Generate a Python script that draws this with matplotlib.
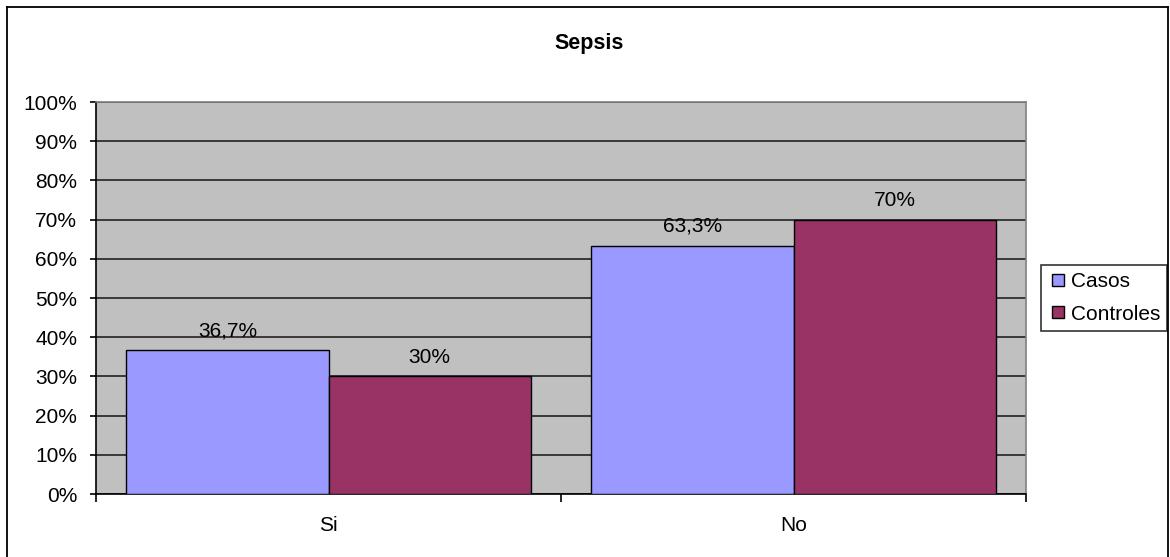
import matplotlib
matplotlib.use("Agg")
import matplotlib.pyplot as plt
from matplotlib.lines import Line2D
from matplotlib.ticker import FixedLocator, PercentFormatter

plt.rcParams['font.family'] = ['Liberation Sans', 'DejaVu Sans']

categories = ["Si", "No"]
series_names = ["Casos", "Controles"]
casos = [36.7, 63.3]
controles = [30.0, 70.0]
casos_labels = ["36,7%", "63,3%"]
controles_labels = ["30%", "70%"]
colors = ["#9999FF", "#993366"]

FS = 15

fig = plt.figure(figsize=(11.70, 5.57), dpi=100)
ax = fig.add_axes([96 / 1170, 63 / 557, 930 / 1170, 392 / 557])
ax.set_facecolor("#C0C0C0")

bw = 0.435
xs = list(range(len(categories)))
b1 = ax.bar([x - bw / 2 for x in xs], casos, width=bw, color=colors[0],
            edgecolor="black", linewidth=1, zorder=3, label=series_names[0])
b2 = ax.bar([x + bw / 2 for x in xs], controles, width=bw, color=colors[1],
            edgecolor="black", linewidth=1, zorder=3, label=series_names[1])

for bars, labels in ((b1, casos_labels), (b2, controles_labels)):
    for rect, txt in zip(bars, labels):
        ax.annotate(txt, (rect.get_x() + rect.get_width() / 2, rect.get_height()),
                    xytext=(0, 10), textcoords="offset points",
                    ha="center", va="baseline", fontsize=FS, color="black", zorder=4)

ax.set_xlim(-0.5, len(categories) - 0.5)
ax.set_ylim(0, 100)
ax.yaxis.set_major_locator(FixedLocator(range(0, 101, 10)))
ax.yaxis.set_major_formatter(PercentFormatter(decimals=0))
ax.grid(axis="y", color="#222222", linewidth=1.2, zorder=1)
ax.set_axisbelow(True)

# category boundary ticks, labels placed at category centres
ax.set_xticks([-0.5, 0.5, 1.5])
ax.set_xticklabels([])
ax.set_xticks(xs, minor=True)
ax.set_xticklabels(categories, minor=True, fontsize=FS)
ax.tick_params(axis="x", which="major", length=6, width=1.2, direction="out", color="black")
ax.tick_params(axis="x", which="minor", length=0, pad=16)
ax.tick_params(axis="y", length=4.5, width=1.2, direction="out", color="black", labelsize=FS, pad=9)

for side in ("left", "bottom"):
    ax.spines[side].set_color("black")
    ax.spines[side].set_linewidth(1.2)
for side in ("top", "right"):
    ax.spines[side].set_color("#808080")
    ax.spines[side].set_linewidth(1.2)

fig.text(589 / 1170, 1 - 44 / 557, "Sepsis", ha="center", va="center",
         fontsize=15.5, fontweight="bold")

handles = [Line2D([], [], marker="s", linestyle="none", markersize=9,
                  markerfacecolor=c, markeredgecolor="black", markeredgewidth=1)
           for c in colors]
leg = fig.legend(handles, series_names, loc="center left",
                 bbox_to_anchor=(1041 / 1170, 1 - 298 / 557),
                 fontsize=FS, frameon=True, fancybox=False, edgecolor="black",
                 borderpad=0.33, handletextpad=0.1, handlelength=1.0,
                 labelspacing=0.65, borderaxespad=0)
leg.get_frame().set_linewidth(1.2)

# chart border
x0, x1 = 7 / 1170, 1168 / 1170
ytop = 1 - 7 / 557
fig.add_artist(Line2D([x0, x1], [ytop, ytop], color="black", linewidth=1.3, transform=fig.transFigure))
fig.add_artist(Line2D([x0, x0], [0, ytop], color="black", linewidth=1.3, transform=fig.transFigure))
fig.add_artist(Line2D([x1, x1], [0, ytop], color="black", linewidth=1.3, transform=fig.transFigure))

fig.savefig("out.png", dpi=100)
